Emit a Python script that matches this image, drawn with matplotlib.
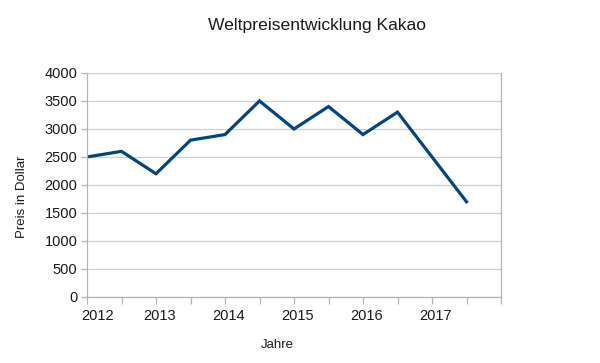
import numpy as np
import matplotlib.pyplot as plt
import matplotlib.ticker as ticker

# half-year steps, 2012 .. 2017
prices = [2500, 2600, 2200, 2800, 2900, 3500, 3000, 3400, 2900, 3300, 2500, 1700]
year_labels = ["2012", "2013", "2014", "2015", "2016", "2017"]
y_ticks = [0, 500, 1000, 1500, 2000, 2500, 3000, 3500, 4000]

plt.rcParams['font.family'] = ['Liberation Sans', 'DejaVu Sans']

fig = plt.figure(figsize=(6, 3.63), dpi=100)
ax = fig.add_axes([0.145, 0.182, 0.69, 0.617])

x = np.arange(len(prices))
ax.plot(x, prices, color='#004586', linewidth=2.3, solid_joinstyle='miter')

ax.set_xlim(0, len(prices))
ax.set_ylim(0, 4000)
ax.set_yticks(y_ticks)
ax.yaxis.grid(True, color='#d0d0d0', linewidth=0.9)
ax.set_axisbelow(True)

# tick marks at every half year, labels every full year
ax.xaxis.set_minor_locator(ticker.MultipleLocator(1))
label_pos = [0.32] + [2 * i + 0.1 for i in range(1, len(year_labels))]
ax.set_xticks(label_pos)
ax.set_xticklabels(year_labels)
ax.tick_params(axis='x', which='major', length=0, pad=9, labelsize=10.5, colors='#1a1a1a')
ax.tick_params(axis='x', which='minor', length=5, width=0.9, color='#b3b3b3', direction='out')
ax.tick_params(axis='y', length=4, width=0.9, color='#b3b3b3', labelsize=10.5,
               labelcolor='#1a1a1a', pad=3)

for side in ['left', 'right', 'bottom']:
    ax.spines[side].set_color('#b3b3b3')
    ax.spines[side].set_linewidth(0.9)
ax.spines['top'].set_visible(False)

fig.text(0.528, 0.93, "Weltpreisentwicklung Kakao", ha='center', va='center',
         fontsize=12.6, color='#1a1a1a')
fig.text(0.462, 0.05, "Jahre", ha='center', va='center', fontsize=9.5, color='#1a1a1a')
fig.text(0.037, 0.457, "Preis in Dollar", ha='center', va='center', rotation=90,
         fontsize=9.5, color='#1a1a1a')

fig.savefig("out.png", dpi=100)
